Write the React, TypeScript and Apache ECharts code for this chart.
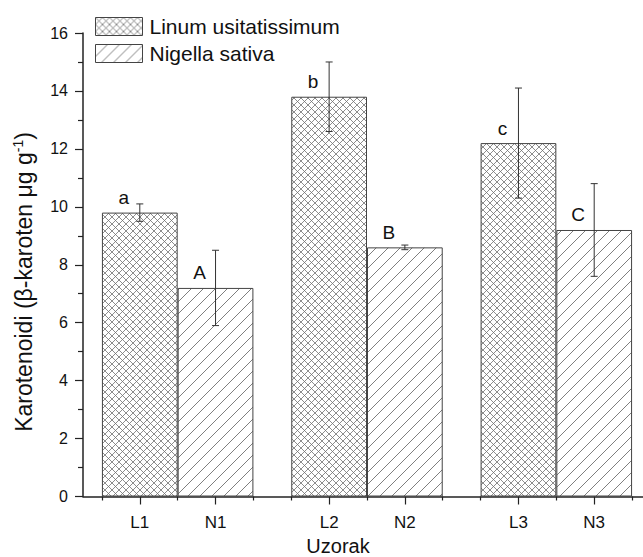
import React, { useEffect, useRef } from 'react';
import * as echarts from 'echarts';

// ---- data ----
const groups = ['G1', 'G2', 'G3'];
const categories = ['L1', 'N1', 'L2', 'N2', 'L3', 'N3'];
const seriesNames = ['Linum usitatissimum', 'Nigella sativa'];
const linumValues = [9.8, 13.8, 12.2];
const linumErrors = [0.3, 1.2, 1.9];
const linumLetters = ['a', 'b', 'c'];
const nigellaValues = [7.2, 8.6, 9.2];
const nigellaErrors = [1.3, 0.08, 1.6];
const nigellaLetters = ['A', 'B', 'C'];
const yMin = 0;
const yMax = 16;
const yInterval = 2;
const yTitle = 'Karotenoidi (β-karoten μg g{sup|-1})';
const xTitle = 'Uzorak';

const FONT = '"Liberation Sans", Arial, Helvetica, sans-serif';
const CAT_GAP = 0.2; // barCategoryGap as fraction of band
const BAR_W = (1 - CAT_GAP) / 2;

function makeTile(size: number, slash: boolean, backslash: boolean, color: string, lw: number): string {
  const c = document.createElement('canvas');
  c.width = size;
  c.height = size;
  const ctx = c.getContext('2d')!;
  ctx.fillStyle = '#ffffff';
  ctx.fillRect(0, 0, size, size);
  ctx.strokeStyle = color;
  ctx.lineWidth = lw;
  const line = (x1: number, y1: number, x2: number, y2: number) => {
    ctx.beginPath();
    ctx.moveTo(x1, y1);
    ctx.lineTo(x2, y2);
    ctx.stroke();
  };
  if (slash) {
    // "/" : from bottom-left to top-right
    for (const k of [0, 1, 2]) line(-1, k * size + 1, k * size + 1, -1);
  }
  if (backslash) {
    for (const k of [-1, 0, 1]) line(k * size - 1, -1, k * size + size + 1, size + 1);
  }
  return c.toDataURL();
}

function pattern(size: number, slash: boolean, backslash: boolean, color: string, lw: number): any {
  return {
    image: makeTile(size, slash, backslash, color, lw),
    repeat: 'repeat',
    imageWidth: size,
    imageHeight: size,
  };
}

export default function App() {
  const ref = useRef<HTMLDivElement>(null);

  useEffect(() => {
    if (!ref.current) return;
    const chart = echarts.init(ref.current, undefined, { renderer: 'svg' });

    const hatchColor = '#707070';
    const crossPattern = pattern(7, true, true, hatchColor, 0.8);
    const diagPattern = pattern(12, true, false, hatchColor, 0.9);

    const centers: number[] = [];
    const edges: number[] = [];
    groups.forEach((_, i) => {
      const left = i + CAT_GAP / 2;
      edges.push(left, left + BAR_W, left + 2 * BAR_W);
      centers.push(left + BAR_W / 2, left + BAR_W * 1.5);
    });

    const labelFor = (v: number) => {
      const idx = centers.findIndex((c) => Math.abs(c - v) < 1e-6);
      return idx >= 0 ? categories[idx] : '';
    };

    const errData: any[] = [];
    const letters: string[] = [];
    groups.forEach((_, i) => {
      errData.push([i, linumValues[i], linumErrors[i], 0]);
      letters.push(linumLetters[i]);
      errData.push([i, nigellaValues[i], nigellaErrors[i], 1]);
      letters.push(nigellaLetters[i]);
    });

    const axisColor = '#222';

    const option: any = {
      animation: false,
      backgroundColor: '#ffffff',
      textStyle: { fontFamily: FONT },
      grid: {
        left: 83,
        top: 33,
        bottom: 60.5,
        right: -8,
        containLabel: false,
        outerBoundsMode: 'none',
      },
      legend: {
        orient: 'vertical',
        left: 95,
        top: 16,
        itemWidth: 47,
        itemHeight: 18,
        itemGap: 6,
        padding: 0,
        icon: 'rect',
        data: [
          { name: seriesNames[0], itemStyle: { color: crossPattern, borderColor: '#444', borderWidth: 1 } },
          { name: seriesNames[1], itemStyle: { color: diagPattern, borderColor: '#444', borderWidth: 1 } },
        ],
        itemStyle: { borderColor: '#444', borderWidth: 1 },
        textStyle: { fontSize: 21, color: '#111', fontFamily: FONT, padding: [0, 0, 0, 2] },
      },
      xAxis: [
        {
          type: 'category',
          data: groups,
          position: 'bottom',
          axisLine: { lineStyle: { color: axisColor, width: 1.5 } },
          axisTick: { show: false },
          axisLabel: { show: false },
          splitLine: { show: false },
        },
        {
          type: 'value',
          min: 0,
          max: groups.length,
          position: 'bottom',
          axisLine: { show: false },
          splitLine: { show: false },
          axisTick: {
            show: true,
            customValues: centers,
            length: 8,
            lineStyle: { color: axisColor, width: 1.2 },
          },
          axisLabel: {
            show: true,
            customValues: centers,
            formatter: (v: number) => labelFor(v),
            fontSize: 17,
            margin: 17,
            color: '#111',
            fontFamily: FONT,
          },
        },
        {
          type: 'value',
          min: 0,
          max: groups.length,
          position: 'bottom',
          axisLine: { show: false },
          splitLine: { show: false },
          axisTick: {
            show: true,
            customValues: edges,
            length: 4,
            lineStyle: { color: axisColor, width: 1.2 },
          },
          axisLabel: { show: false },
        },
      ],
      yAxis: {
        type: 'value',
        min: yMin,
        max: yMax,
        interval: yInterval,
        axisLine: { show: true, lineStyle: { color: axisColor, width: 1.5 } },
        axisTick: { show: true, length: 8, lineStyle: { color: axisColor, width: 1.2 } },
        minorTick: { show: true, splitNumber: 2, length: 5, lineStyle: { color: axisColor, width: 1.2 } },
        axisLabel: { fontSize: 16, margin: 15, color: '#111', fontFamily: FONT },
        splitLine: { show: false },
      },
      series: [
        {
          name: seriesNames[0],
          type: 'bar',
          xAxisIndex: 0,
          data: linumValues,
          barGap: '0%',
          barCategoryGap: `${CAT_GAP * 100}%`,
          itemStyle: { color: crossPattern, borderColor: '#444', borderWidth: 1 },
        },
        {
          name: seriesNames[1],
          type: 'bar',
          xAxisIndex: 0,
          data: nigellaValues,
          barGap: '0%',
          barCategoryGap: `${CAT_GAP * 100}%`,
          itemStyle: { color: diagPattern, borderColor: '#444', borderWidth: 1 },
        },
        {
          name: 'errors',
          type: 'custom',
          xAxisIndex: 0,
          z: 5,
          data: errData,
          renderItem: (params: any, api: any) => {
            const i = api.value(0);
            const v = api.value(1);
            const e = api.value(2);
            const s = api.value(3);
            const bandW = api.size([1, 0])[0];
            const dx = (s === 0 ? -BAR_W / 2 : BAR_W / 2) * bandW;
            const hi = api.coord([i, v + e]);
            const lo = api.coord([i, v - e]);
            const mid = api.coord([i, v]);
            const x = hi[0] + dx;
            const cap = 3.5;
            const ls = { stroke: '#333', lineWidth: 1 };
            return {
              type: 'group',
              children: [
                { type: 'line', shape: { x1: x, y1: hi[1], x2: x, y2: lo[1] }, style: ls },
                { type: 'line', shape: { x1: x - cap, y1: hi[1], x2: x + cap, y2: hi[1] }, style: ls },
                { type: 'line', shape: { x1: x - cap, y1: lo[1], x2: x + cap, y2: lo[1] }, style: ls },
                {
                  type: 'text',
                  x: x - 16,
                  y: mid[1] - 15,
                  style: {
                    text: letters[params.dataIndex],
                    fontSize: 19,
                    fontFamily: FONT,
                    fill: '#111',
                    align: 'center',
                    textAlign: 'center',
                    verticalAlign: 'middle',
                    textVerticalAlign: 'middle',
                  },
                },
              ],
            };
          },
        },
      ],
      graphic: [
        {
          type: 'text',
          x: 24,
          y: 282,
          rotation: Math.PI / 2,
          style: {
            text: yTitle,
            fontSize: 23,
            fontFamily: FONT,
            fill: '#111',
            align: 'center',
            textAlign: 'center',
            verticalAlign: 'middle',
            textVerticalAlign: 'middle',
            rich: {
              sup: { fontSize: 14, fontFamily: FONT, fill: '#111', verticalAlign: 'top', lineHeight: 27 },
            },
          },
        },
        {
          type: 'text',
          x: 338,
          y: 546,
          style: {
            text: xTitle,
            fontSize: 20,
            fontFamily: FONT,
            fill: '#111',
            align: 'center',
            textAlign: 'center',
            verticalAlign: 'middle',
            textVerticalAlign: 'middle',
          },
        },
      ],
    };

    chart.setOption(option);
    return () => chart.dispose();
  }, []);

  return (
    <div
      ref={ref}
      style={{ position: 'absolute', left: 0, top: 0, width: 643, height: 557, background: '#fff' }}
    />
  );
}
